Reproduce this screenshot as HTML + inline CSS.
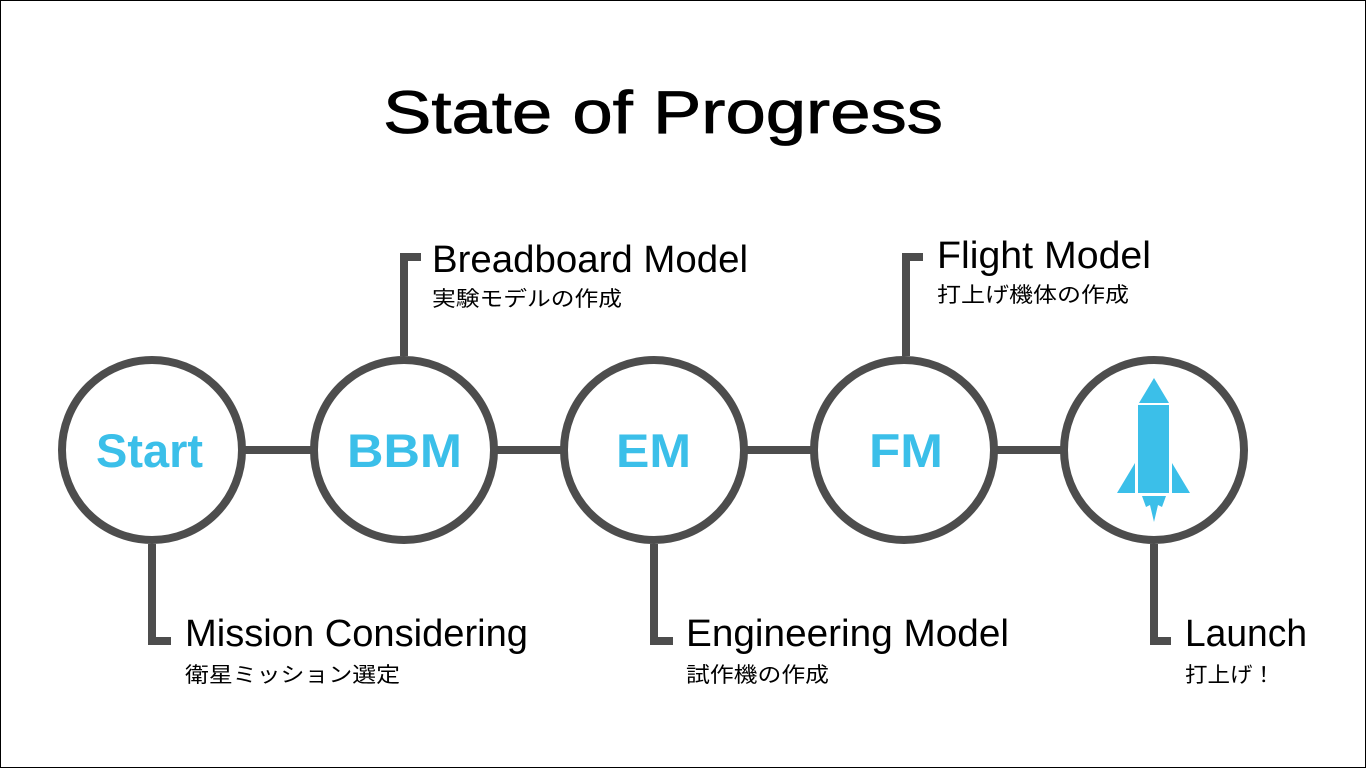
<!DOCTYPE html>
<html><head><meta charset="utf-8"><style>
html,body{margin:0;padding:0;background:#fff}
svg{display:block}
.t{font-family:"Liberation Sans","Noto Sans CJK JP",sans-serif}
</style></head><body>
<svg width="1366" height="768" viewBox="0 0 1366 768" xmlns="http://www.w3.org/2000/svg">
<rect x="0.5" y="0.5" width="1365" height="767" fill="#fff" stroke="#000" stroke-width="1"/>
<g stroke="#4d4d4d" stroke-width="8" fill="none">
<line x1="240" y1="450" x2="316" y2="450"/>
<line x1="492" y1="450" x2="566" y2="450"/>
<line x1="742" y1="450" x2="816" y2="450"/>
<line x1="992" y1="450" x2="1066" y2="450"/>
<polyline points="152,544 152,641 171,641"/>
<polyline points="654,544 654,641 673,641"/>
<polyline points="1154,544 1154,641 1171,641"/>
<polyline points="404,356 404,257 421,257"/>
<polyline points="906,356 906,257 923,257"/>
<circle cx="152" cy="450" r="90" fill="#fff"/>
<circle cx="404" cy="450" r="90" fill="#fff"/>
<circle cx="654" cy="450" r="90" fill="#fff"/>
<circle cx="904" cy="450" r="90" fill="#fff"/>
<circle cx="1154" cy="450" r="90" fill="#fff"/>
</g>
<g fill="#3bbfe9">
<polygon points="1154,378 1139,403 1169,403"/>
<rect x="1138" y="405" width="31" height="88"/>
<polygon points="1117,493 1135,493 1135,463"/>
<polygon points="1172,463 1172,493 1190,493"/>
<polygon points="1142,496 1166,496 1162,507 1158,505 1154,522 1150,505 1146,507"/>
</g>
<g class="t" fill="#3bbfe9" font-weight="bold" font-size="47">
<text x="96" y="467" textLength="107" lengthAdjust="spacingAndGlyphs">Start</text>
<text x="347" y="467" textLength="115" lengthAdjust="spacingAndGlyphs">BBM</text>
<text x="616" y="467" textLength="75" lengthAdjust="spacingAndGlyphs">EM</text>
<text x="869" y="467" textLength="74" lengthAdjust="spacingAndGlyphs">FM</text>
</g>
<text class="t" x="383" y="133" font-size="60" fill="#000" stroke="#000" stroke-width="0.8" textLength="560" lengthAdjust="spacingAndGlyphs">State of  Progress</text>
<g class="t" fill="#000" font-size="38">
<text x="432" y="272" textLength="316" lengthAdjust="spacingAndGlyphs">Breadboard Model</text>
<text x="937" y="268" textLength="214" lengthAdjust="spacingAndGlyphs">Flight Model</text>
<text x="185" y="646" textLength="343" lengthAdjust="spacingAndGlyphs">Mission Considering</text>
<text x="686" y="646" textLength="323" lengthAdjust="spacingAndGlyphs">Engineering Model</text>
<text x="1185" y="646" textLength="122" lengthAdjust="spacingAndGlyphs">Launch</text>
</g>
<g class="t" fill="#000" font-size="21">
<text x="432" y="306" textLength="190" lengthAdjust="spacingAndGlyphs">実験モデルの作成</text>
<text x="937" y="302" textLength="192" lengthAdjust="spacingAndGlyphs">打上げ機体の作成</text>
<text x="185" y="682" textLength="215" lengthAdjust="spacingAndGlyphs">衛星ミッション選定</text>
<text x="686" y="682" textLength="143" lengthAdjust="spacingAndGlyphs">試作機の作成</text>
<text x="1185" y="682" textLength="90" lengthAdjust="spacingAndGlyphs">打上げ！</text>
</g>
</svg>
</body></html>
